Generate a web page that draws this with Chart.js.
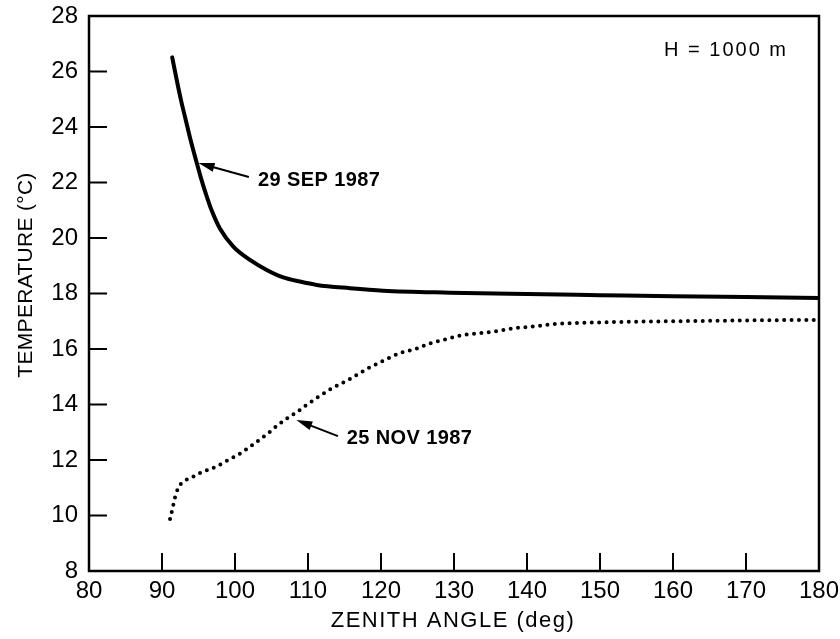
<!DOCTYPE html>
<html>
<head>
<meta charset="utf-8">
<script src="https://cdn.jsdelivr.net/npm/chart.js@4.4.0/dist/chart.umd.min.js"></script>
<style>
  html, body { margin: 0; padding: 0; background: #fff; }
  #wrap { width: 840px; height: 639px; }
</style>
</head>
<body>
<div id="wrap"><canvas id="c" width="840" height="639"></canvas></div>
<script>
// ---- data ----
const zenithSep = [91.40, 91.99, 92.60, 93.22, 93.90, 94.63, 95.36, 96.11, 96.84, 97.95, 99.77, 102.05, 104.34, 106.62, 108.9, 111.19, 115.75, 120.3, 129.45, 140, 150, 160, 170, 180];
const tempSep   = [26.51, 25.73, 24.97, 24.29, 23.55, 22.83, 22.14, 21.51, 20.97, 20.33, 19.69, 19.21, 18.85, 18.58, 18.43, 18.31, 18.19, 18.10, 18.03, 17.98, 17.94, 17.90, 17.87, 17.84];

const zenithNov = [91.1, 91.4, 91.8, 92.3, 93.3, 94.3, 95.5, 96.6, 97.7, 98.8, 99.8, 100.8, 101.8, 102.7, 103.7, 104.7, 105.6, 106.6, 107.7, 108.5, 109.5, 113.4, 115.5, 118.2, 120.5, 122.6, 124.7, 126.7, 129, 131.2, 133.6, 136, 138.4, 141.5, 143.8, 150, 160, 170, 180];
const tempNov   = [9.87, 10.2, 10.67, 11.03, 11.28, 11.4, 11.57, 11.67, 11.8, 11.96, 12.1, 12.25, 12.43, 12.6, 12.8, 13.0, 13.2, 13.4, 13.6, 13.73, 13.93, 14.6, 14.88, 15.3, 15.6, 15.85, 16.0, 16.2, 16.36, 16.5, 16.57, 16.65, 16.75, 16.83, 16.9, 16.96, 17.0, 17.03, 17.05];

const xTicks = [80, 90, 100, 110, 120, 130, 140, 150, 160, 170, 180];
const yTicks = [8, 10, 12, 14, 16, 18, 20, 22, 24, 26, 28];

const xTitle = 'ZENITH ANGLE (deg)';
const yTitle = 'TEMPERATURE (°C)';
const seriesLabels = ['29 SEP 1987', '25 NOV 1987'];
const noteText = 'H = 1000 m';
// annotation anchor points in data units: [labelX, labelY, arrowTailX, arrowTailY, arrowHeadX, arrowHeadY]
const sepNote = [103.15, 22.09, 101.9, 22.2, 95.0, 22.7];
const novNote = [115.3, 12.79, 114.1, 12.86, 108.4, 13.44];
const hNote = [175.75, 26.77];

const FONT = "'Liberation Sans', Arial, Helvetica, sans-serif";

function pts(xs, ys) { return xs.map((x, i) => ({ x: x, y: ys[i] })); }

const decor = {
  id: 'decor',
  afterDraw(chart) {
    const ctx = chart.ctx;
    const xs = chart.scales.x, ys = chart.scales.y;
    const a = chart.chartArea;
    ctx.save();
    ctx.strokeStyle = '#000';
    ctx.lineWidth = 2.5;
    ctx.strokeRect(a.left, a.top, a.right - a.left, a.bottom - a.top);
    // inward ticks
    ctx.lineWidth = 2;
    xTicks.forEach(v => {
      if (v === xTicks[0] || v === xTicks[xTicks.length - 1]) return;
      const p = xs.getPixelForValue(v);
      ctx.beginPath(); ctx.moveTo(p, a.bottom); ctx.lineTo(p, a.bottom - 18); ctx.stroke();
    });
    yTicks.forEach(v => {
      if (v === yTicks[0] || v === yTicks[yTicks.length - 1]) return;
      const p = ys.getPixelForValue(v);
      ctx.beginPath(); ctx.moveTo(a.left, p); ctx.lineTo(a.left + 18, p); ctx.stroke();
    });
    // axis titles
    ctx.fillStyle = '#000';
    ctx.textAlign = 'center';
    ctx.textBaseline = 'middle';
    ctx.font = '22px ' + FONT;
    ctx.letterSpacing = '1.5px';
    ctx.fillText(xTitle, (a.left + a.right) / 2 - 1, 621);
    ctx.save();
    ctx.translate(26, 275);
    ctx.rotate(-Math.PI / 2);
    ctx.font = '21px ' + FONT;
    ctx.letterSpacing = '0.3px';
    ctx.fillText(yTitle, 0, 0);
    ctx.restore();
    // notes
    function note(n, label) {
      ctx.font = 'bold 20px ' + FONT;
      ctx.letterSpacing = '0.4px';
      ctx.textAlign = 'left';
      ctx.fillText(label, xs.getPixelForValue(n[0]), ys.getPixelForValue(n[1]));
      const tx = xs.getPixelForValue(n[2]), ty = ys.getPixelForValue(n[3]);
      const hx = xs.getPixelForValue(n[4]), hy = ys.getPixelForValue(n[5]);
      const ang = Math.atan2(hy - ty, hx - tx);
      ctx.lineWidth = 2;
      ctx.beginPath(); ctx.moveTo(tx, ty); ctx.lineTo(hx - 10 * Math.cos(ang), hy - 10 * Math.sin(ang)); ctx.stroke();
      ctx.beginPath();
      ctx.moveTo(hx, hy);
      ctx.lineTo(hx - 16 * Math.cos(ang) + 4.5 * Math.sin(ang), hy - 16 * Math.sin(ang) - 4.5 * Math.cos(ang));
      ctx.lineTo(hx - 16 * Math.cos(ang) - 4.5 * Math.sin(ang), hy - 16 * Math.sin(ang) + 4.5 * Math.cos(ang));
      ctx.closePath(); ctx.fill();
    }
    note(sepNote, seriesLabels[0]);
    note(novNote, seriesLabels[1]);
    ctx.font = '20px ' + FONT;
    ctx.letterSpacing = '2px';
    ctx.textAlign = 'right';
    ctx.fillText(noteText, xs.getPixelForValue(hNote[0]), ys.getPixelForValue(hNote[1]));
    ctx.restore();
  }
};

new Chart(document.getElementById('c'), {
  type: 'line',
  data: {
    datasets: [
      {
        label: seriesLabels[0],
        data: pts(zenithSep, tempSep),
        borderColor: '#000',
        borderWidth: 4,
        pointRadius: 0,
        cubicInterpolationMode: 'monotone',
        borderCapStyle: 'round',
        borderJoinStyle: 'round',
        fill: false
      },
      {
        label: seriesLabels[1],
        data: pts(zenithNov, tempNov),
        borderColor: '#000',
        borderWidth: 4,
        borderDash: [0, 7.4],
        borderCapStyle: 'round',
        pointRadius: 0,
        cubicInterpolationMode: 'monotone',
        fill: false
      }
    ]
  },
  options: {
    responsive: false,
    animation: false,
    devicePixelRatio: 1,
    layout: { padding: { left: 0, top: 16, right: 21, bottom: 0 } },
    plugins: { legend: { display: false }, tooltip: { enabled: false } },
    scales: {
      x: {
        type: 'linear', min: 80, max: 180,
        afterBuildTicks: s => { s.ticks = xTicks.map(v => ({ value: v })); },
        afterFit: s => { s.height = 68; s.paddingLeft = 0; s.paddingRight = 0; },
        grid: { display: false, drawTicks: false },
        border: { display: false },
        ticks: { color: '#000', font: { family: FONT, size: 24 }, padding: 6, maxRotation: 0 }
      },
      y: {
        type: 'linear', min: 8, max: 28,
        afterBuildTicks: s => { s.ticks = yTicks.map(v => ({ value: v })); },
        afterFit: s => { s.width = 89; s.paddingTop = 0; s.paddingBottom = 0; },
        grid: { display: false, drawTicks: false },
        border: { display: false },
        ticks: { color: '#000', font: { family: FONT, size: 24 }, padding: 11 }
      }
    }
  },
  plugins: [decor]
});
</script>
</body>
</html>
